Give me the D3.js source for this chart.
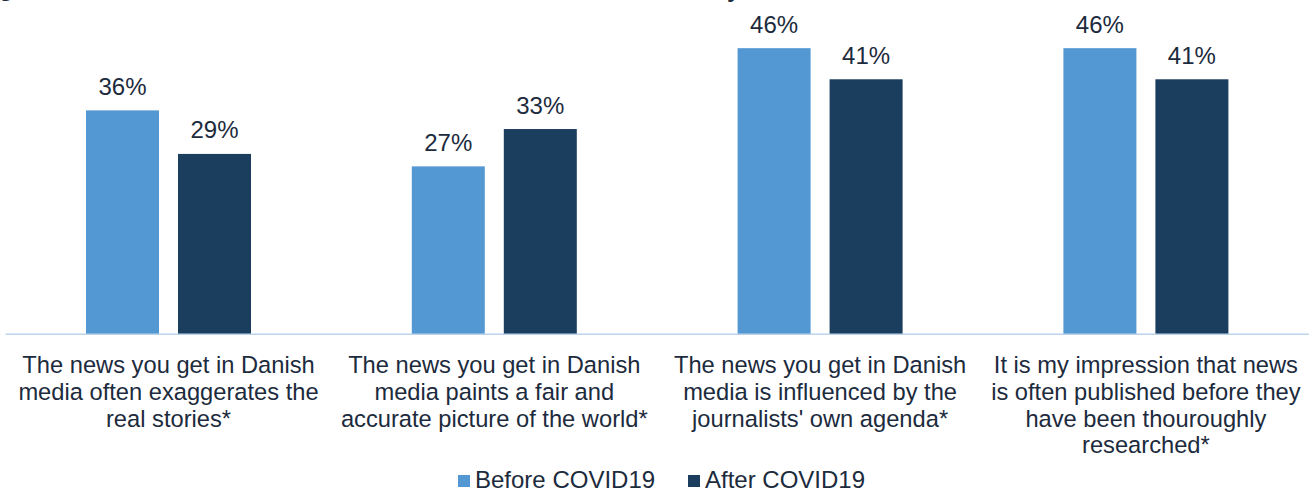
<!DOCTYPE html>
<html>
<head>
<meta charset="utf-8">
<script src="https://cdn.jsdelivr.net/npm/d3@7"></script>
<style>
  html, body { margin: 0; padding: 0; background: #ffffff; }
  svg { display: block; }
  text { font-family: "Liberation Sans", Arial, sans-serif; fill: #1c2b3d; }
</style>
</head>
<body>
<svg id="chart" width="1316" height="491"></svg>
<script>
// Survey statements (each wrapped onto its own lines)
const categories = [
  ["The news you get in Danish", "media often exaggerates the", "real stories*"],
  ["The news you get in Danish", "media paints a fair and", "accurate picture of the world*"],
  ["The news you get in Danish", "media is influenced by the", "journalists' own agenda*"],
  ["It is my impression that news", "is often published before they", "have been thouroughly", "researched*"]
];
const seriesNames = ["Before COVID19", "After COVID19"];
const beforeValues = [36, 27, 46, 46];
const afterValues = [29, 33, 41, 41];
const seriesColors = ["#5398d3", "#1b3d5e"];

const svg = d3.select("#chart");
const W = 1316;

const baseY = 334.3;
const catIdx = d3.range(categories.length);

// Category bands across the plot width
const x0 = d3.scaleBand().domain(catIdx).range([5.6, 1308.8]).padding(0);
// Two bars per category, centred in the band
const pairWidth = 165;
const x1 = d3.scaleBand().domain([0, 1]).range([0, pairWidth]).paddingInner(0.2065).paddingOuter(0);
const y = d3.scaleLinear().domain([0, 50]).range([baseY, baseY - 311]);

// Headline row sits above the frame; only its descenders reach into view
svg.append("text").attr("x", -1).attr("y", -3.6)
  .style("font-size", "24px").style("font-weight", "bold").text("g");
svg.append("text").attr("x", 727).attr("y", -3.2)
  .style("font-size", "24px").style("font-weight", "bold").text("y");

const rows = catIdx.map(i => ({ i, vals: [beforeValues[i], afterValues[i]] }));

const groups = svg.selectAll("g.cat").data(rows).join("g")
  .attr("class", "cat")
  .attr("transform", d => `translate(${x0(d.i) + x0.bandwidth() / 2 - pairWidth / 2},0)`);

groups.selectAll("rect").data(d => d.vals.map((v, s) => ({ v, s }))).join("rect")
  .attr("x", d => x1(d.s))
  .attr("width", x1.bandwidth())
  .attr("y", d => y(d.v))
  .attr("height", d => y(0) - y(d.v))
  .attr("fill", d => seriesColors[d.s]);

groups.selectAll("text.val").data(d => d.vals.map((v, s) => ({ v, s }))).join("text")
  .attr("class", "val")
  .attr("x", d => x1(d.s) + x1.bandwidth() / 2)
  .attr("y", d => y(d.v) - 15.5)
  .attr("text-anchor", "middle")
  .style("font-size", "24px")
  .text(d => d.v + "%");

// Category axis line
svg.append("line")
  .attr("x1", x0.range()[0]).attr("x2", x0.range()[1])
  .attr("y1", baseY).attr("y2", baseY)
  .attr("stroke", "#bcd3ea").attr("stroke-width", 1.6);

// Category labels
const lineGap = 26.7;
svg.selectAll("text.cat-label").data(rows).join("text")
  .attr("class", "cat-label")
  .attr("text-anchor", "middle")
  .style("font-size", "23.7px")
  .each(function(d) {
    const t = d3.select(this);
    const cx = x0(d.i) + x0.bandwidth() / 2;
    categories[d.i].forEach((ln, k) => {
      t.append("tspan").attr("x", cx).attr("y", 373.3 + k * lineGap).text(ln);
    });
  });

// Legend
const legendItems = [
  { name: seriesNames[0], color: seriesColors[0], x: 458 },
  { name: seriesNames[1], color: seriesColors[1], x: 688 }
];
const lg = svg.selectAll("g.legend").data(legendItems).join("g")
  .attr("class", "legend")
  .attr("transform", d => `translate(${d.x},0)`);
lg.append("rect").attr("x", 0).attr("y", 475).attr("width", 12).attr("height", 12)
  .attr("fill", d => d.color);
lg.append("text").attr("x", 17).attr("y", 488.3)
  .style("font-size", "24px")
  .text(d => d.name);
</script>
</body>
</html>
